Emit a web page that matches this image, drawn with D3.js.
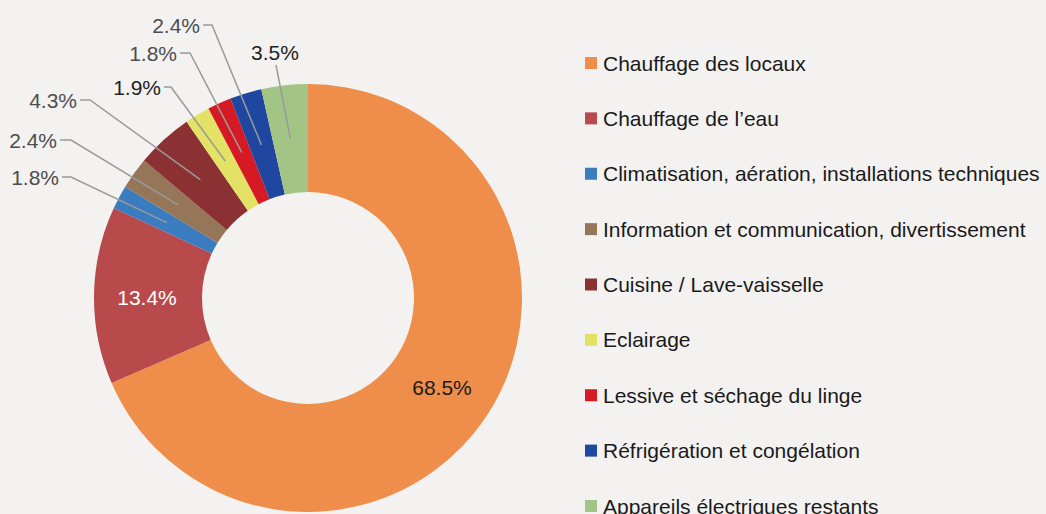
<!DOCTYPE html>
<html>
<head>
<meta charset="utf-8">
<script src="https://cdn.jsdelivr.net/npm/d3@7"></script>
<style>
  html, body { margin: 0; padding: 0; background: #F3F2F1; }
  svg { display: block; }
</style>
</head>
<body>
<svg id="chart" width="1046" height="514"></svg>
<script>
const categories = [
  "Chauffage des locaux",
  "Chauffage de l’eau",
  "Climatisation, aération, installations techniques",
  "Information et communication, divertissement",
  "Cuisine / Lave-vaisselle",
  "Eclairage",
  "Lessive et séchage du linge",
  "Réfrigération et congélation",
  "Appareils électriques restants"
];
const values = [68.5, 13.4, 1.8, 2.4, 4.3, 1.9, 1.8, 2.4, 3.5];
const colors = ["#EF8E4A", "#B94A4B", "#3B7BBF", "#967659", "#8B3033", "#E3E264", "#D51A24", "#1F47A0", "#A2C585"];

// label layout (text anchor point, elbow x) for outside labels
const labelLayout = [
  {type: "in", x: 442, y: 387, color: "#1a1a1a"},
  {type: "in", x: 147, y: 297, color: "#ffffff"},
  {type: "out", x: 59, y: 177, elbow: 71, color: "#4d4d4d"},
  {type: "out", x: 57, y: 140, elbow: 71, color: "#4d4d4d"},
  {type: "out", x: 77, y: 100, elbow: 90, color: "#4d4d4d"},
  {type: "out", x: 161, y: 87, elbow: 171, color: "#222222"},
  {type: "out", x: 177, y: 53, elbow: 190, color: "#4d4d4d"},
  {type: "out", x: 200, y: 25, elbow: 212, color: "#4d4d4d"},
  {type: "top", x: 275, y: 52, color: "#222222"}
];

const svg = d3.select("#chart");
const cx = 308, cy = 298, R = 214, r = 106;
const g = svg.append("g").attr("transform", `translate(${cx},${cy})`);

const pie = d3.pie().sort(null).value(d => d)(values);
const arc = d3.arc().innerRadius(r).outerRadius(R);

g.selectAll("path.slice").data(pie).join("path")
  .attr("class", "slice")
  .attr("d", arc)
  .attr("fill", (d, i) => colors[i]);

const fmt = v => v.toFixed(1) + "%";
const labelFont = "Liberation Sans, Arial, sans-serif";
const labelSize = 21;

pie.forEach((d, i) => {
  const L = labelLayout[i];
  const [px, py] = arc.centroid(d);
  const ex = px + cx, ey = py + cy;
  if (L.type === "out") {
    svg.append("polyline")
      .attr("points", `${L.x + 3},${L.y} ${L.elbow},${L.y} ${ex},${ey}`)
      .attr("fill", "none").attr("stroke", "#9a9a9a").attr("stroke-width", 1.5);
  } else if (L.type === "top") {
    svg.append("line")
      .attr("x1", L.x + 1).attr("y1", L.y + 13).attr("x2", ex).attr("y2", ey)
      .attr("stroke", "#9a9a9a").attr("stroke-width", 1.5);
  }
  svg.append("text").attr("x", L.x).attr("y", L.y)
    .attr("text-anchor", L.type === "out" ? "end" : "middle")
    .attr("dominant-baseline", "central")
    .attr("font-family", labelFont).attr("font-size", labelSize)
    .attr("fill", L.color).text(fmt(values[i]));
});

// legend
const ly = d3.scaleLinear().domain([0, categories.length - 1]).range([63, 506]);
const legend = svg.append("g");
categories.forEach((c, i) => {
  legend.append("rect").attr("x", 585).attr("y", ly(i) - 6).attr("width", 12).attr("height", 12)
    .attr("fill", colors[i]);
  legend.append("text").attr("x", 603).attr("y", ly(i))
    .attr("dominant-baseline", "central")
    .attr("font-family", "Liberation Sans, Arial, Helvetica, sans-serif")
    .attr("font-size", 21).attr("fill", "#1a1a1a").text(c);
});
</script>
</body>
</html>
